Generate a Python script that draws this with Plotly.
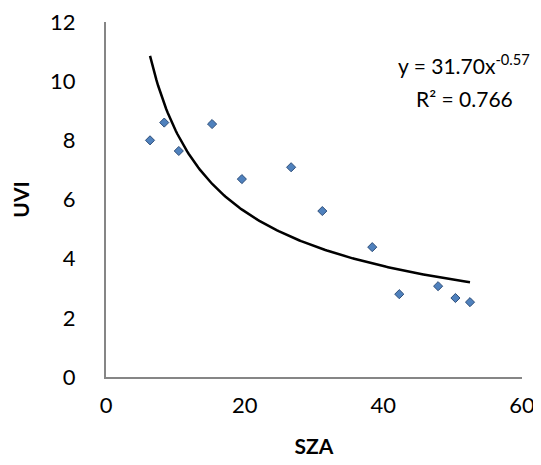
import numpy as np
import plotly.graph_objects as go

# Data
sza = [6.35, 8.4, 10.5, 15.3, 19.6, 26.7, 31.2, 38.4, 42.3, 47.9, 50.4, 52.5]
uvi = [8.0, 8.6, 7.64, 8.55, 6.69, 7.09, 5.61, 4.39, 2.80, 3.07, 2.67, 2.53]

# Power trendline label as printed on the chart
label_a = 31.70
label_b = -0.57
label_r2 = 0.766

x_ticks = [0, 20, 40, 60]
y_ticks = [0, 2, 4, 6, 8, 10, 12]

# least-squares power fit (log-log), as the spreadsheet trendline does
fb, fln_a = np.polyfit(np.log(sza), np.log(uvi), 1)
xs = np.linspace(min(sza), max(sza), 200)
ys = np.exp(fln_a) * xs ** fb

FONT = "Lato, 'Open Sans', sans-serif"

fig = go.Figure()
fig.add_trace(go.Scatter(
    x=xs, y=ys, mode="lines",
    line=dict(color="black", width=2.5),
    hoverinfo="skip", showlegend=False,
))
fig.add_trace(go.Scatter(
    x=sza, y=uvi, mode="markers",
    marker=dict(symbol="diamond", size=7, color="#4F81BD",
                line=dict(color="#2F4F7A", width=1)),
    showlegend=False,
))

fig.add_annotation(
    x=1.0, y=1.0, xref="paper", yref="paper", xanchor="right", yanchor="middle",
    xshift=10, yshift=-42,
    text=f"y = {label_a:.2f}x<sup>{label_b:.2f}</sup>",
    showarrow=False, font=dict(family=FONT, size=21, color="black"),
)
fig.add_annotation(
    x=1.0, y=1.0, xref="paper", yref="paper", xanchor="center", yanchor="middle",
    xshift=-58, yshift=-76,
    text=f"R² = {label_r2:.3f}",
    showarrow=False, font=dict(family=FONT, size=21, color="black"),
)

# the page body adds an 8px offset; compensate in size and margins
fig.update_layout(
    width=533, height=457,
    margin=dict(l=98, r=19, t=14, b=88, autoexpand=False),
    paper_bgcolor="white", plot_bgcolor="white",
    font=dict(family=FONT, size=22, color="black"),
    xaxis=dict(
        range=[0, 60], tickvals=x_ticks, showgrid=False, zeroline=False,
        showline=True, linecolor="#868686", linewidth=2, ticks="",
        ticklabelstandoff=8, automargin=False, ticklabeloverflow="allow",
        title=dict(text="<b>SZA</b>", font=dict(size=21), standoff=22),
    ),
    yaxis=dict(
        range=[0, 12], tickvals=y_ticks, showgrid=False, zeroline=False,
        showline=True, linecolor="#868686", linewidth=2, ticks="",
        ticklabelstandoff=24, automargin=False, ticklabeloverflow="allow",
        title=dict(text="<b>UVI</b>", font=dict(size=21), standoff=18),
    ),
)

fig.write_html("out.html")
